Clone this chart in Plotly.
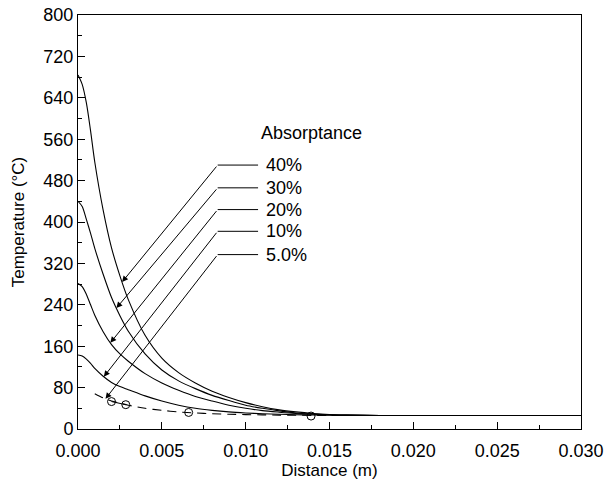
import numpy as np
import plotly.graph_objects as go

# ---- data ----
x_grid = [0, 0.00025, 0.0005, 0.00075, 0.001, 0.0015, 0.002, 0.0025, 0.003, 0.004,
          0.005, 0.006, 0.007, 0.008, 0.009, 0.010, 0.011, 0.012, 0.013, 0.014,
          0.015, 0.016, 0.018, 0.020, 0.025, 0.030]
t_40 = [684, 666, 630, 576, 516, 423, 350, 296, 250, 181, 137, 109, 89, 73, 61, 51,
        43, 37, 33, 30, 28, 27, 26, 26, 26, 26]
t_30 = [440, 430, 405, 378, 349, 299, 254, 219, 189, 145, 114, 93, 78, 65, 55, 46,
        40, 35, 31, 29, 27.5, 27, 26, 26, 26, 26]
t_20 = [281, 275, 260, 240, 220, 188, 163, 145, 131, 107, 89, 75, 63, 54, 46, 40,
        35.5, 32.5, 30, 28.5, 27.5, 27, 26, 26, 26, 26]
t_10 = [143, 141, 135, 127, 117, 102, 90, 82, 76, 64, 54, 46, 40, 36, 33, 31,
        29.5, 28.5, 27.5, 27, 26.5, 26, 26, 26, 26, 26]

x_5 = [0.001, 0.0015, 0.002, 0.0025, 0.003, 0.004, 0.005, 0.006, 0.007, 0.008,
       0.009, 0.010, 0.011, 0.012, 0.013, 0.014, 0.015, 0.016]
t_5 = [68, 60, 54, 50, 46, 40, 36, 33, 31, 29.5, 28.5, 27.8, 27.3, 26.9, 26.6,
       26.3, 26.1, 26]

meas_x = [0.0020, 0.00285, 0.0066, 0.0139]
meas_t = [53, 47, 32, 25]

labels = ["40%", "30%", "20%", "10%", "5.0%"]
tip_x = [0.00263, 0.00229, 0.00193, 0.00154, 0.00164]
label_t = [510, 466, 424, 382, 337]
corner_x = 0.00833
label_end_x = 0.01074
text_x = 0.0111
title_x, title_t = 0.01391, 572

FONT = "Liberation Sans, Arial, Helvetica, sans-serif"

fig = go.Figure()
line_style = dict(color="black", width=1)
for ys in (t_40, t_30, t_20, t_10):
    fig.add_trace(go.Scatter(x=x_grid, y=ys, mode="lines",
                             line=dict(color="black", width=1.1, shape="spline", smoothing=0.8),
                             showlegend=False, hoverinfo="skip"))
fig.add_trace(go.Scatter(x=x_5, y=t_5, mode="lines",
                         line=dict(color="black", width=1.1, dash="9px,6px", shape="spline", smoothing=0.8),
                         showlegend=False, hoverinfo="skip"))
fig.add_trace(go.Scatter(x=meas_x[:2], y=meas_t[:2], mode="lines", line=line_style,
                         showlegend=False, hoverinfo="skip"))
fig.add_trace(go.Scatter(x=meas_x, y=meas_t, mode="markers",
                         marker=dict(symbol="circle-open", size=8, color="black", line=dict(width=1)),
                         showlegend=False, hoverinfo="skip"))

curves = [(x_grid, t_40), (x_grid, t_30), (x_grid, t_20), (x_grid, t_10), (x_5, t_5)]
for lab, tx, lt, (cx, cy) in zip(labels, tip_x, label_t, curves):
    ty = float(np.interp(tx, cx, cy))
    fig.add_annotation(x=tx, y=ty, ax=corner_x, ay=lt, xref="x", yref="y", axref="x", ayref="y",
                       text="", showarrow=True, arrowhead=2, arrowsize=1.2, arrowwidth=1,
                       arrowcolor="black", standoff=0)
    fig.add_shape(type="line", x0=corner_x, x1=label_end_x, y0=lt, y1=lt, xref="x", yref="y",
                  line=dict(color="black", width=1))
    fig.add_annotation(x=text_x, y=lt, xref="x", yref="y", text=lab, showarrow=False,
                       xanchor="left", yanchor="middle", font=dict(size=18, color="black", family=FONT))

fig.add_annotation(x=title_x, y=title_t, xref="x", yref="y", text="Absorptance", showarrow=False,
                   xanchor="center", yanchor="middle", font=dict(size=18, color="black", family=FONT))

fig.update_layout(
    width=605, height=481,
    margin=dict(l=78, r=24, t=15, b=52, autoexpand=False),
    paper_bgcolor="white", plot_bgcolor="white",
    font=dict(family=FONT, size=18, color="black"),
    showlegend=False,
)
fig.update_xaxes(range=[0, 0.03], tickvals=[0, 0.005, 0.01, 0.015, 0.02, 0.025, 0.03],
                 tickformat=".3f", ticks="inside", ticklen=7, tickwidth=1, tickcolor="black",
                 ticklabelstandoff=5, automargin=False,
                 minor=dict(dtick=0.0025, ticks="inside", ticklen=4, tickcolor="black", tickwidth=1),
                 showline=True, linecolor="black", linewidth=1, mirror=True, showgrid=False,
                 zeroline=False, title=dict(text="Distance (m)", font=dict(size=17), standoff=4))
fig.update_yaxes(range=[0, 800], dtick=80, tick0=0, automargin=False,
                 ticks="inside", ticklen=7, tickwidth=1, tickcolor="black",
                 minor=dict(dtick=40, ticks="inside", ticklen=4, tickcolor="black", tickwidth=1),
                 showline=True, linecolor="black", linewidth=1, mirror=True, showgrid=False,
                 zeroline=False, title=dict(text="Temperature (°C)", font=dict(size=17), standoff=14))

fig.write_html("out.html")
